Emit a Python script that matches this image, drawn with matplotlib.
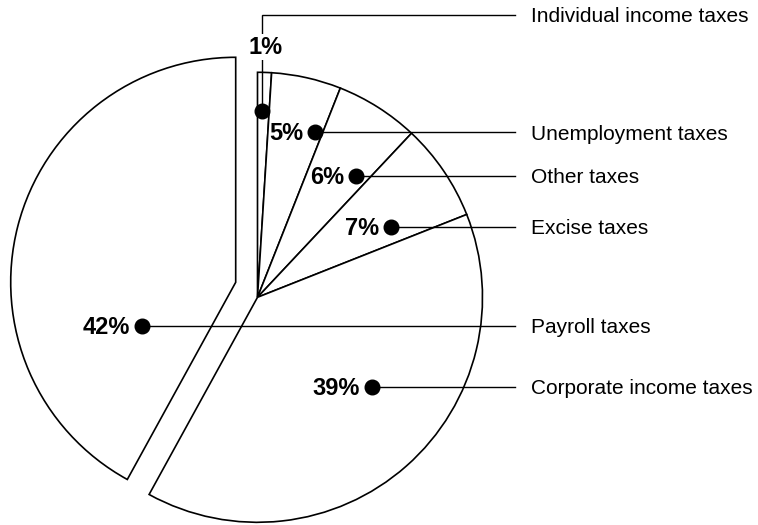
import numpy as np
import matplotlib
matplotlib.use("Agg")
import matplotlib.pyplot as plt

# ---- data ----
categories = ["Individual income taxes", "Unemployment taxes", "Other taxes",
              "Excise taxes", "Corporate income taxes", "Payroll taxes"]
shares = [1, 5, 6, 7, 39, 42]
pct_labels = ["1%", "5%", "6%", "7%", "39%", "42%"]

# ---- layout (pixels, y measured from top) ----
W, H = 758, 525
CX, CY = 257.5, 297.3          # pie centre
R = 225                         # pie radius
EXPLODE_SHIFT = (-21.8, -15.0)  # shift of the payroll wedge
# dot position: fraction across wedge angle, fraction of radius
dot_pos = [(0.36, 0.83), (0.87, 0.776), (0.81, 0.695), (0.75, 0.67),
           (0.425, 0.646), (0.24, 0.46)]
label_line_y = [15, 132.3, 176, 226.7, 387.3, 325.7]
LINE_END_X = 515
LABEL_X = 531

FONT = "Liberation Sans"
plt.rcParams['font.family'] = [FONT, 'DejaVu Sans']

fig = plt.figure(figsize=(W / 100, H / 100), dpi=100)
ax = fig.add_axes([0, 0, 1, 1])

def Y(py):
    return H - py

wedges, _ = ax.pie(shares, startangle=90, counterclock=False, radius=R,
                   center=(CX, Y(CY)),
                   wedgeprops=dict(facecolor="white", edgecolor="black",
                                   linewidth=1.2))
ax.set_xlim(0, W)
ax.set_ylim(0, H)
ax.set_aspect("equal")
ax.axis("off")

# explode payroll wedge
pay = categories.index("Payroll taxes")
wedges[pay].set_center((CX + EXPLODE_SHIFT[0], Y(CY + EXPLODE_SHIFT[1])))

for i, w in enumerate(wedges):
    cx, cy = w.center
    t1, t2 = w.theta1, w.theta2   # degrees, counter-clockwise in data
    fa, fr = dot_pos[i]
    # clockwise ordering: start at theta2 going down to theta1
    ang = np.deg2rad(t2 - fa * (t2 - t1))
    dx = cx + fr * R * np.cos(ang)
    dy = cy + fr * R * np.sin(ang)
    ly = Y(label_line_y[i])
    if i == 0:
        ax.plot([dx, dx, LINE_END_X], [dy, ly, ly], color="black",
                linewidth=1.0, zorder=3, solid_joinstyle="miter")
        ax.text(dx + 4, dy + 57, pct_labels[i], ha="center", va="baseline",
                fontsize=17, fontweight="bold", zorder=4,
                bbox=dict(facecolor="white", edgecolor="none", pad=1.0))
    else:
        ax.plot([dx, LINE_END_X], [dy, dy], color="black", linewidth=1.0,
                zorder=3)
        ax.text(dx - 12, dy - 8, pct_labels[i], ha="right", va="baseline",
                fontsize=17, fontweight="bold", zorder=4)
        ly = dy
    ax.plot([dx], [dy], marker="o", markersize=10.5, color="black", zorder=5)
    ax.text(LABEL_X, ly - 7.5, categories[i], ha="left", va="baseline",
            fontsize=15, zorder=4)

fig.savefig("out.png", dpi=100)
